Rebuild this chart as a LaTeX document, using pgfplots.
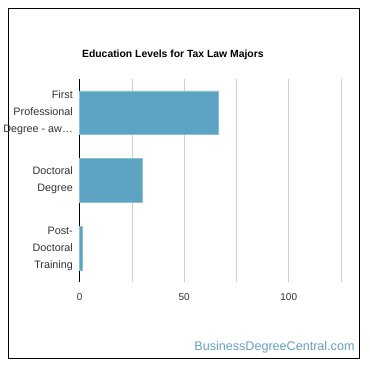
\documentclass[border=0pt]{standalone}
\usepackage{pgfplots}
\pgfplotsset{compat=1.18}
\usepackage{fontspec}
\setmainfont{Liberation Sans}
\definecolor{barc}{HTML}{5DA3C2}
\definecolor{barb}{HTML}{8CC0D6}
\definecolor{gridc}{HTML}{D0D0D0}
\definecolor{wm}{HTML}{6A9FC0}
\definecolor{lab}{HTML}{333333}
\begin{document}
\begin{tikzpicture}[x=1pt,y=1pt]
\path[fill=white] (0,0) rectangle (370,370);
\draw[black, line width=0.9pt] (8,11) rectangle (359,362);
\node[anchor=west, font=\bfseries\fontsize{10.4}{12}\selectfont] at (78,315) {Education Levels for Tax Law Majors};
\begin{axis}[
  at={(79pt,87pt)}, anchor=south west,
  scale only axis, width=262pt, height=204pt,
  xbar, xmin=0, xmax=125, ymin=-0.5, ymax=2.5,
  bar width=44pt,
  ytick={0,1,2},
  yticklabels={{Post-\\Doctoral\\Training},{Doctoral\\Degree},{First\\Professional\\Degree - aw…}},
  yticklabel style={align=right, text=lab, font=\fontsize{10.8}{17}\selectfont, xshift=1pt},
  xtick={0,50,100},
  minor xtick={25,75,125},
  xmajorgrids, xminorgrids,
  major grid style={gridc, line width=0.6pt},
  minor grid style={gridc, line width=0.6pt},
  xticklabel style={font=\fontsize{10}{11}\selectfont, text=lab, yshift=-8pt},
  /pgf/number format/assume math mode=true,
  tick style={draw=none},
  axis y line*=left,
  y axis line style={black, line width=0.8pt, -},
  xticklabel pos=lower,
  separate axis lines,
  x axis line style={draw=none},
  clip=false,
]
\addplot[fill=barc, draw=barb, line width=0.6pt] coordinates {(1.4,0) (30,1) (66.3,2)};
\end{axis}
\node[anchor=east, text=wm, font=\fontsize{12.6}{14}\selectfont] at (358,22) {BusinessDegreeCentral.com};
\end{tikzpicture}
\end{document}
